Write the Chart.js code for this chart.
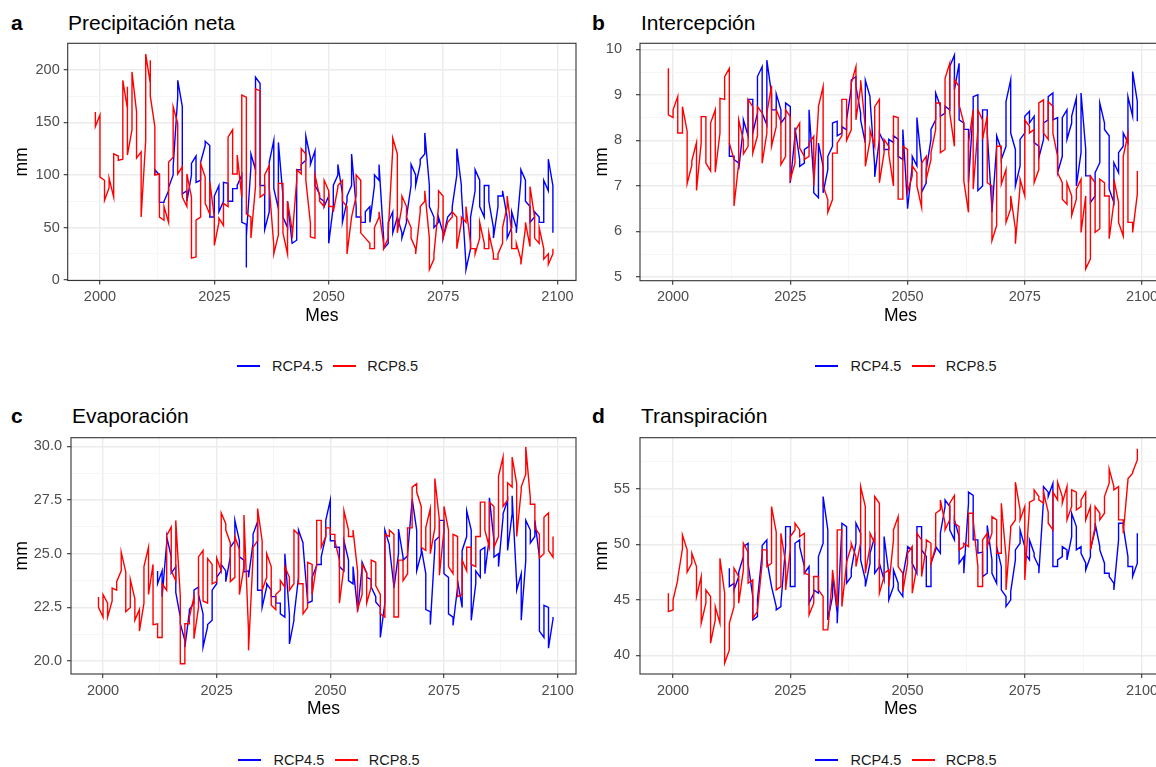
<!DOCTYPE html>
<html>
<head>
<meta charset="utf-8">
<script src="https://cdn.jsdelivr.net/npm/chart.js@4.4.0/dist/chart.umd.min.js"></script>
<style>
  body { margin: 0; width: 1156px; height: 767px; background: #fff; position: relative; overflow: hidden;
         font-family: "Liberation Sans", Arial, sans-serif; }
  canvas { position: absolute; }
  .tag { position: absolute; font-size: 21px; line-height: 21px; font-weight: bold; color: #000; }
  .title { position: absolute; font-size: 21px; line-height: 21px; color: #000; white-space: nowrap; }
  .key { position: absolute; width: 23px; height: 1.6px; }
  .keytext { position: absolute; font-size: 14.5px; line-height: 16px; color: #1a1a1a; }
</style>
</head>
<body>
<div class="tag" style="left:11px;top:12px">a</div>
<div class="title" style="left:68px;top:12px">Precipitación neta</div>
<div class="tag" style="left:592px;top:12px">b</div>
<div class="title" style="left:641px;top:12px">Intercepción</div>
<div class="tag" style="left:11px;top:405px">c</div>
<div class="title" style="left:72px;top:405px">Evaporación</div>
<div class="tag" style="left:592px;top:405px">d</div>
<div class="title" style="left:641px;top:405px">Transpiración</div>

<canvas id="chartA" width="590" height="290" style="left:0px;top:40px"></canvas>
<canvas id="chartB" width="580" height="290" style="left:585px;top:40px"></canvas>
<canvas id="chartC" width="590" height="294" style="left:0px;top:430px"></canvas>
<canvas id="chartD" width="580" height="294" style="left:585px;top:430px"></canvas>

<script>
// ---------------- DATA ----------------
// one entry per year, each entry holds the values plotted at that year
const rcp85Start = 1999;
const rcp45Start = 2012;
const seriesNames = ["RCP4.5", "RCP8.5"];
const seriesColors = ["#0000FF", "#FF0000"];

const xTicks = [2000, 2025, 2050, 2075, 2100];
const xMinor = [2012.5, 2037.5, 2062.5, 2087.5];

// a - Precipitación neta
const precRcp85 = [
  [160,146],[157,98],[95,76],[88,97],[79,120],[118,114],[115,190],[163,184,119],[143,198],[160,116],
  [122,60],[133,215],[187,209,175],[146,100],[101,60],[70,57],[112,55],[117,165],[149,101],[108,79],
  [101,70],[79,21],[22,57],[60,111],[98,73],[94,63],[60,33],[59,55],[73,52],[136,70],
  [143,101],[119,101],[176,79],[174,63],[60,40],[182,89],[180,79],[100,82],[109,89],[33,25],
  [92,43],[92,45],[75,25],[48,40],[105,95],[125,101],[120,95],[54,41],[100,40],[80,75],
  [95,70],[85,70],[70,65],[90,88],[95,75],[70,25],[60,60],[100,80],[95,45],[40,40],
  [35,30],[50,30],[65,60],[35,30],[45,40],[135,125],[120,45],[80,70],[70,60],[50,40],
  [30,25],[70,65],[85,75],[40,10],[25,20],[85,70],[80,40],[55,55],[65,60],[60,30],
  [60,55],[70,55],[35,30],[25,30],[55,40],[35,30],[45,30],[25,20],[25,20],[50,35],
  [80,70],[45,30],[35,30],[20,15],[50,55],[89,32],[60,40],[50,35],[30,20],[25,15],
  [30,25]
];
const precRcp45 = [
  [100,105],[100,74],[74,75],[85,88],[100,108],[190,174],[165,82],[85,75],[111,100],[118,93],
  [112,95],[132,128],[128,60],[60,80],[90,65],[93,75],[92,75],[87,75],[90,87],[100,55],
  [42,12,53],[120,108],[193,105],[187,90],[90,48],[112,65],[133,87],[131,68],[80,60],[75,50],
  [35,35],[38,105],[110,105],[137,114],[116,110],[123,90],[82,78],[70,75],[80,35],[70,90],
  [100,110],[82,55],[80,75],[120,90],[70,60],[60,55],[65,55],[70,55],[100,90],[110,95],
  [40,30],[55,35],[65,45],[60,60],[45,40],[60,55],[110,90],[100,90],[115,110],[140,120],
  [90,70],[60,50],[60,55],[45,40],[60,60],[70,65],[125,100],[90,85],[15,10],[30,60],
  [105,85],[95,70],[90,60],[90,75],[50,40],[80,70],[85,80],[60,40],[65,50],[50,45],
  [105,95],[95,75],[70,55],[65,60],[60,55],[95,55],[115,85],[90,45]
];

// b - Intercepción
const intRcp85 = [
  [9.58,8.56],[8.67,8.5],[8.96,8.16],[8.74,8.16],[8.2,7.05],[7.55,7.45],[6.9,7.95],[7.95,8.52],[7.5,8.52],[8.38,7.33],
  [8.67,7.3],[8.92,8.16],[9.4,8.9],[9.58,7.94],[7.58,6.56],[8.45,7.5],[8.0,7.7],[8.9,7.87],[8.74,7.72],[8.74,8.1],
  [8.6,7.5],[8.6,8.16],[9.2,7.87],[8.67,8.3],[8.42,7.47],[8.67,7.65],[8.52,7.14],[8.2,7.5],[8.38,7.83],[7.65,7.58],
  [7.94,7.65],[8.09,7.0],[8.67,8.74],[9.18,7.0],[6.7,6.42],[7.72,6.7],[7.94,7.72],[8.9,8.1],[8.9,8.0],[9.25,8.23],
  [9.62,8.45],[9.32,9.18],[8.3,7.43],[8.23,8.0],[8.74,7.87],[8.9,7.07],[8.02,7.73],[7.87,7.7],[8.53,7.0],[8.5,6.71],
  [7.87,6.71],[7.8,6.86],[7.44,7.22],[7.29,7.0],[7.5,6.53],[7.65,7.15],[7.73,7.58],[8.82,8.24],[8.82,7.73],[9.36,7.8],
  [9.69,8.6],[9.33,7.87],[9.18,8.78],[8.38,7.11],[7.95,6.42],[8.67,6.93],[8.67,8.24],[8.45,8.02],[8.53,7.07],[7.0,5.8],
  [7.87,6.13],[7.87,7.04],[7.36,6.2],[6.78,6.5],[6.06,5.73],[7.15,7.0],[8.45,6.78],[8.31,8.16],[8.24,7.07],[8.82,7.36],
  [8.89,8.16],[8.85,8.02],[8.75,8.16],[7.65,7.29],[7.07,6.71],[7.07,6.6],[6.78,6.35],[6.93,6.71],[7.15,5.98],[6.78,5.18],
  [7.22,5.4],[7.07,5.98],[7.15,6.06],[7.07,6.78],[6.78,5.84],[7.15,6.64],[6.64,6.2],[7.65,5.9],[8.13,6.2],[6.2,5.98],
  [7.33,6.82]
];
const intRcp45 = [
  [7.94,7.65],[7.58,7.65],[7.5,7.36],[8.3,8.45],[8.9,8.1],[8.9,8.16],[9.4,8.6],[9.62,8.6],[9.76,8.34],[9.02,8.67],
  [9.02,8.67],[8.67,8.38],[8.82,8.52],[8.74,7.07],[8.28,8.1],[7.58,7.43],[7.8,7.5],[8.67,7.87],[7.14,6.85],[7.94,6.74],
  [7.43,6.85],[7.65,7.36],[8.38,7.87],[8.42,8.1],[8.3,8.16],[8.45,8.23],[9.32,9.14],[9.4,9.18],[8.6,8.45],[9.32,7.94],
  [8.96,8.9],[7.43,7.2],[8.16,8.02],[7.95,7.8],[8.02,7.8],[8.1,7.95],[8.02,7.65],[8.24,7.58],[6.57,6.5],[7.65,7.44],
  [8.5,7.44],[7.5,6.86],[7.36,7.07],[8.24,8.02],[9.04,8.45],[8.75,8.53],[8.75,8.6],[9.62,8.67],[9.87,9.11],[9.69,8.45],
  [8.38,8.24],[8.24,7.07],[8.96,8.67],[9.0,6.9],[8.67,7.0],[8.67,8.16],[6.5,6.42],[8.1,7.87],[7.58,7.8],[8.85,7.87],
  [9.33,8.16],[7.8,7.0],[8.02,7.44],[8.53,8.16],[8.64,8.38],[8.53,7.95],[7.87,7.62],[8.38,8.02],[8.96,8.45],[9.04,8.45],
  [8.5,7.29],[8.5,7.65],[8.67,8.02],[8.53,8.38],[8.93,7.0],[9.04,7.73],[7.8,7.22],[7.22,6.64],[7.29,6.78],[8.82,7.51],
  [8.38,8.24],[8.1,6.93],[7.51,6.64],[7.73,7.29],[8.16,7.87],[8.96,7.95],[9.51,8.53],[8.85,8.42]
];

// c - Evaporación
const evapRcp85 = [
  [22.98,22.5],[23.1,22.05],[22.7,22.05],[23.4,22.8],[23.7,23.3],[25.07,24.2],[24.15,22.3],[23.8,22.5],[22.9,21.9],[22.4,21.4],
  [24.4,22.7],[25.3,23.1],[24.5,21.7],[21.74,21.1],[23.6,21.1],[25.85,23.3],[26.24,24.2],[26.55,23.75],[23.0,19.88],[21.74,19.88],
  [22.05,21.74],[22.98,21.04],[24.85,22.5],[25.15,22.8],[24.77,22.7],[24.5,23.6],[24.8,23.7],[26.9,24.2],[26.4,26.1],[25.5,23.7],
  [25.8,23.9],[25.2,23.1],[26.8,24.4],[21.4,20.5],[25.3,24.85],[27.1,25.6],[25.6,23.3],[25.0,23.9],[24.4,22.6],[23.1,22.4],
  [23.75,23.3],[24.4,23.45],[23.9,23.3],[26.1,23.6],[25.9,23.6],[23.6,22.2],[24.6,22.5],[24.5,23.1],[26.55,24.5],[26.55,25.3],
  [26.2,25.8],[26.2,25.9],[25.9,25.6],[24.7,22.7],[27.0,24.4],[26.1,25.8],[26.1,25.8],[24.2,22.4],[24.5,23.1],[24.1,22.7],
  [24.7,23.45],[24.6,23.5],[23.1,22.2],[25.9,22.05],[26.1,25.8],[25.9,22.05],[24.7,22.05],[24.7,23.75],[26.2,24.07],[28.1,26.2],
  [28.26,27.87],[27.2,25.3],[26.2,25.15],[27.1,25.0],[28.5,26.2],[26.55,24.0],[27.2,26.1],[26.1,24.4],[25.9,24.07],[25.8,23.0],
  [24.7,23.1],[25.3,24.2],[25.3,24.5],[25.8,24.4],[27.4,25.8],[27.4,26.1],[27.4,25.3],[27.2,25.3],[28.6,25.8],[29.5,27.2],
  [28.3,27.5],[29.5,28.1],[28.26,25.8],[28.1,27.95],[29.97,28.7],[27.6,27.3],[27.3,26.2],[25.9,24.8],[26.7,25.0],[26.9,25.15],
  [25.8,24.84]
];
const evapRcp45 = [
  [24.2,23.6],[24.2,23.0],[25.8,25.5],[24.85,24.1],[24.4,23.2],[22.05,21.74],[20.96,20.65],[22.4,22.3],[23.3,22.7],[23.45,23.1],
  [22.2,20.65],[21.7,21.6],[23.3,21.9],[23.9,23.6],[24.5,24.2],[24.2,23.7],[25.3,24.85],[26.55,25.6],[25.6,24.85],[24.7,24.15],
  [24.2,23.9],[25.9,25.5],[26.5,23.3],[23.3,22.5],[23.6,23.45],[23.3,23.0],[23.0,22.7],[22.7,22.2],[25.0,22.05],[22.2,20.8],
  [22.05,21.9],[26.1,23.9],[25.5,25.4],[22.8,22.7],[23.9,22.8],[24.5,24.45],[24.85,24.5],[26.55,25.8],[27.5,25.6],[25.6,25.3],
  [25.3,24.4],[25.6,24.2],[24.7,23.75],[24.4,23.6],[22.4,22.3],[24.6,24.4],[24.1,23.9],[23.8,23.45],[23.0,22.75],[22.5,21.1],
  [26.1,22.7],[25.4,25.3],[23.45,23.4],[26.15,25.0],[24.85,24.7],[25.0,24.9],[27.55,27.5],[26.1,24.2],[25.3,25.0],[24.07,22.4],
  [22.3,21.7],[25.6,25.3],[26.55,25.8],[26.55,24.07],[23.9,22.2],[22.05,21.66],[23.75,23.45],[25.15,22.5],[27.0,25.8],[26.1,21.9],
  [24.2,23.6],[25.15,23.9],[25.3,24.07],[27.6,25.8],[25.6,24.84],[25.0,24.4],[26.86,26.7],[27.5,25.15],[27.7,26.86],[23.6,23.3],
  [24.07,21.9],[26.55,24.7],[26.1,25.5],[26.55,25.8],[24.84,21.4],[22.6,21.1],[22.5,20.6],[22.05,21.97]
];

// d - Transpiración
const transRcp85 = [
  [45.6,43.95],[45.0,44.1],[46.95,46.8],[50.84,49.6],[49.5,47.5],[49.2,48.3],[48.0,45.3],[47.1,42.9],[45.9,44.7],[45.3,41.1],
  [44.4,43.2],[48.74,42.9],[45.6,39.3],[42.9,40.5],[47.85,44.4],[47.1,44.7],[50.1,47.7],[49.3,46.5],[46.8,43.35],[44.1,43.95],
  [49.5,48.3],[49.5,48.0],[53.4,48.3],[51.1,45.9],[51.0,46.2],[48.3,45.9],[50.7,49.5],[51.9,51.3],[51.3,50.7],[51.0,47.4],
  [47.25,43.65],[47.1,44.7],[47.1,45.9],[45.3,42.3],[42.3,42.3],[47.7,47.1],[51.3,44.4],[51.3,44.4],[48.4,48.3],[50.1,49.8],
  [48.9,48.0],[55.2,50.1],[53.4,47.4],[51.0,49.8],[54.3,50.1],[53.7,45.6],[47.4,47.1],[47.7,46.2],[51.3,50.4],[52.5,48.0],
  [47.4,45.75],[49.2,48.3],[49.8,45.6],[51.0,48.0],[50.4,47.1],[50.4,49.8],[50.1,48.3],[52.8,49.8],[54.0,53.1],[51.9,51.3],
  [53.7,52.2],[54.4,51.9],[51.6,49.5],[50.1,49.8],[52.8,49.8],[52.8,52.2],[48.0,46.2],[50.4,46.2],[51.0,49.8],[52.5,51.0],
  [52.2,49.2],[53.7,49.2],[48.9,45.9],[51.6,51.3],[55.6,52.2],[53.1,52.2],[53.4,46.8],[53.8,53.4],[54.9,54.0],[54.3,54.0],
  [54.7,53.7],[52.9,51.9],[54.7,51.3],[55.6,54.0],[54.3,53.7],[55.2,52.2],[54.9,53.4],[54.7,53.1],[54.0,53.4],[54.7,52.2],
  [53.4,49.5],[53.4,51.6],[52.8,52.2],[54.3,52.8],[56.8,55.5],[55.2,54.9],[55.2,52.2],[52.2,51.0],[55.9,55.8],[56.5,56.4],
  [58.6,57.6]
];
const transRcp45 = [
  [47.85,46.2],[46.5,45.9],[47.5,47.1],[49.8,48.9],[50.1,48.3],[45.3,43.2],[45.0,43.5],[49.9,49.2],[50.4,48.6],[46.2,46.2],
  [44.4,44.1],[44.7,44.4],[51.6,49.8],[51.6,46.2],[50.1,46.2],[50.4,49.8],[48.0,47.4],[48.0,44.7],[45.9,45.6],[48.9,45.6],
  [54.3,50.1],[51.3,43.2],[47.4,45.3],[43.8,42.9],[51.9,51.6],[51.6,46.5],[47.7,47.1],[51.9,50.1],[51.0,48.6],[46.8,46.2],
  [49.2,48.3],[50.7,47.4],[48.3,48.0],[50.7,46.8],[47.4,45.0],[47.7,46.2],[46.5,45.9],[47.1,45.3],[49.8,49.5],[49.5,48.3],
  [51.6,47.4],[51.6,49.5],[48.9,46.2],[48.3,46.2],[49.8,49.5],[51.0,49.2],[54.0,53.4],[53.4,51.3],[52.2,50.4],[50.7,48.3],
  [48.9,47.4],[54.7,53.7],[54.4,50.4],[50.4,49.2],[49.3,47.1],[51.7,47.4],[48.6,47.4],[49.8,46.5],[48.0,45.9],[45.3,44.4],
  [45.75,45.0],[49.5,48.6],[51.3,50.1],[49.8,49.2],[50.4,48.6],[49.2,48.9],[48.0,47.4],[55.2,54.0],[54.7,54.3],[55.5,48.0],
  [48.6,48.0],[49.8,48.9],[49.5,48.6],[52.8,50.7],[51.6,49.5],[49.8,49.2],[48.3,47.7],[49.5,48.9],[51.9,51.3],[49.8,49.5],
  [48.3,47.4],[47.4,47.1],[46.5,45.9],[51.9,50.4],[51.9,51.6],[48.9,48.0],[48.0,47.1],[51.0,48.3]
];

// y ticks for each panel (major labelled, minor only grid)
const precTicks = [0, 50, 100, 150, 200];
const precMinor = [25, 75, 125, 175, 225];
const intTicks = [5, 6, 7, 8, 9, 10];
const intMinor = [5.5, 6.5, 7.5, 8.5, 9.5];
const evapTicks = [20, 22.5, 25, 27.5, 30];
const evapMinor = [21.25, 23.75, 26.25, 28.75];
const transTicks = [40, 45, 50, 55];
const transMinor = [42.5, 47.5, 52.5, 57.5];

// ---------------- HELPERS ----------------
Chart.defaults.font.family = '"Liberation Sans", Arial, sans-serif';
Chart.defaults.color = "#4D4D4D";

// values of one year are joined from the side nearest the previous year
const toPoints = (rows, startYear) => {
    const pts = [];
    let last = null;
    rows.forEach((vals, i) => {
        let seq = vals.slice();
        if (last !== null && Math.abs(seq[seq.length - 1] - last) < Math.abs(seq[0] - last)) {
            seq.reverse();
        }
        seq.forEach(v => pts.push({ x: startYear + i, y: v }));
        last = seq[seq.length - 1];
    });
    return pts;
};

const panelFrame = {
    id: "panelFrame",
    afterDatasetsDraw(chart) {
        const { ctx, chartArea: a } = chart;
        ctx.save();
        ctx.strokeStyle = "#333333";
        ctx.lineWidth = 1.1;
        ctx.strokeRect(a.left, a.top, a.right - a.left, a.bottom - a.top);
        ctx.restore();
    }
};

const makePanel = (cfg) => {
    const box = cfg.box;
    const isMajorX = v => xTicks.includes(v);
    const isMajorY = v => cfg.yTicks.includes(v);
    const gridOpts = (isMajor) => ({
        color: c => isMajor(c.tick && c.tick.value) ? "#EBEBEB" : "#F4F4F4",
        lineWidth: c => isMajor(c.tick && c.tick.value) ? 1.4 : 0.8,
        tickColor: c => isMajor(c.tick && c.tick.value) ? "#333333" : "rgba(0,0,0,0)",
        tickLength: 4,
        tickWidth: 1.1
    });

    new Chart(document.getElementById(cfg.id), {
        type: "line",
        data: {
            datasets: [
                {
                    label: seriesNames[0],
                    data: toPoints(cfg.rcp45, rcp45Start),
                    borderColor: seriesColors[0],
                    borderWidth: 1.4,
                    pointRadius: 0,
                    tension: 0,
                    order: 2
                },
                {
                    label: seriesNames[1],
                    data: toPoints(cfg.rcp85, rcp85Start),
                    borderColor: seriesColors[1],
                    borderWidth: 1.4,
                    pointRadius: 0,
                    tension: 0,
                    order: 1
                }
            ]
        },
        options: {
            responsive: false,
            animation: false,
            events: [],
            layout: {
                padding: {
                    left: 0,
                    top: box.plotTop - box.y0,
                    right: box.x0 + box.w - box.plotRight,
                    bottom: 0
                }
            },
            plugins: { legend: { display: false }, tooltip: { enabled: false } },
            scales: {
                x: {
                    type: "linear",
                    min: 1992.95,
                    max: 2104.05,
                    afterBuildTicks: axis => {
                        axis.ticks = xTicks.concat(xMinor).sort((p, q) => p - q).map(v => ({ value: v }));
                    },
                    afterFit: scale => {
                        scale.height = box.y0 + box.h - box.plotBottom;
                        scale.paddingLeft = 0;
                        scale.paddingRight = 0;
                    },
                    grid: gridOpts(isMajorX),
                    border: { display: false },
                    ticks: {
                        autoSkip: false,
                        maxRotation: 0,
                        padding: 4,
                        font: { size: 14.5 },
                        color: "#4D4D4D",
                        callback: v => isMajorX(v) ? String(v) : ""
                    },
                    title: {
                        display: true,
                        text: "Mes",
                        color: "#000",
                        font: { size: 17.5 },
                        padding: { top: 0, bottom: box.y0 + box.h - (box.plotBottom + 35.5) - 10.5 }
                    }
                },
                y: {
                    min: cfg.yMin,
                    max: cfg.yMax,
                    afterBuildTicks: axis => {
                        axis.ticks = cfg.yTicks.concat(cfg.yMinor).sort((p, q) => p - q).map(v => ({ value: v }));
                    },
                    afterFit: scale => {
                        scale.width = box.plotLeft - box.x0;
                        scale.paddingTop = 0;
                        scale.paddingBottom = 0;
                    },
                    grid: gridOpts(isMajorY),
                    border: { display: false },
                    ticks: {
                        autoSkip: false,
                        padding: cfg.yPad,
                        font: { size: 14.5 },
                        color: "#4D4D4D",
                        callback: v => isMajorY(v) ? cfg.fmt(v) : ""
                    },
                    title: {
                        display: true,
                        text: "mm",
                        color: "#000",
                        font: { size: 17.5 },
                        padding: { top: box.yTitleX - box.x0 - 10.5, bottom: 0 }
                    }
                }
            }
        },
        plugins: [panelFrame]
    });
};

// ---------------- LEGENDS ----------------
const addLegend = (left, centerY) => {
    const offsets = [[0, 35.3], [96.6, 130.6]];
    seriesNames.forEach((name, i) => {
        const key = document.createElement("div");
        key.className = "key";
        key.style.left = (left + offsets[i][0]) + "px";
        key.style.top = (centerY - 0.8) + "px";
        key.style.background = seriesColors[i];
        document.body.appendChild(key);
        const txt = document.createElement("div");
        txt.className = "keytext";
        txt.textContent = name;
        txt.style.left = (left + offsets[i][1]) + "px";
        txt.style.top = (centerY - 8) + "px";
        document.body.appendChild(txt);
    });
};

// ---------------- PANELS ----------------
const intFmt = v => String(v);
const oneDec = v => v.toFixed(1);

makePanel({
    id: "chartA", rcp45: precRcp45, rcp85: precRcp85,
    yMin: -0.3, yMax: 225.2, yTicks: precTicks, yMinor: precMinor, fmt: intFmt, yPad: 4,
    box: { x0: 0, y0: 40, w: 590, h: 290, plotLeft: 67.7, plotTop: 43.3, plotRight: 576, plotBottom: 280.5, yTitleX: 22.5 }
});
makePanel({
    id: "chartB", rcp45: intRcp45, rcp85: intRcp85,
    yMin: 4.92, yMax: 10.13, yTicks: intTicks, yMinor: intMinor, fmt: intFmt, yPad: 14,
    box: { x0: 585, y0: 40, w: 580, h: 290, plotLeft: 640, plotTop: 43.3, plotRight: 1161, plotBottom: 280.7, yTitleX: 601.7 }
});
makePanel({
    id: "chartC", rcp45: evapRcp45, rcp85: evapRcp85,
    yMin: 19.4, yMax: 30.4, yTicks: evapTicks, yMinor: evapMinor, fmt: oneDec, yPad: 5,
    box: { x0: 0, y0: 430, w: 590, h: 294, plotLeft: 71, plotTop: 437.7, plotRight: 576, plotBottom: 674, yTitleX: 22.5 }
});
makePanel({
    id: "chartD", rcp45: transRcp45, rcp85: transRcp85,
    yMin: 38.33, yMax: 59.6, yTicks: transTicks, yMinor: transMinor, fmt: intFmt, yPad: 6,
    box: { x0: 585, y0: 430, w: 580, h: 294, plotLeft: 640, plotTop: 437.7, plotRight: 1161, plotBottom: 674, yTitleX: 601.7 }
});

addLegend(236.7, 366);
addLegend(815.2, 366);
addLegend(238.2, 760);
addLegend(815.2, 760);
</script>
</body>
</html>
